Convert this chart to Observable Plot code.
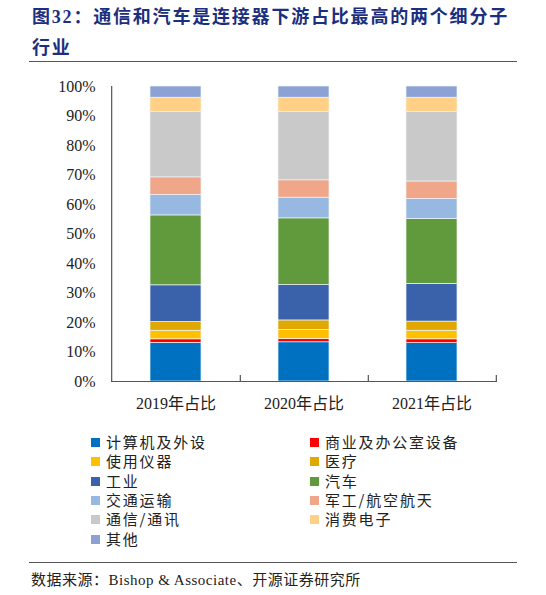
<!DOCTYPE html>
<html>
<head>
<meta charset="utf-8">
<script src="https://cdn.jsdelivr.net/npm/d3@7"></script>
<script src="https://cdn.jsdelivr.net/npm/@observablehq/plot@0.6"></script>
<style>
  body { margin: 0; background: #fff; }
  #page { position: relative; width: 546px; height: 595px; overflow: hidden;
          font-family: "Liberation Serif", "Noto Sans CJK SC", serif; }
  #title { position: absolute; left: 32px; top: 2px; font-family: "Liberation Serif", "Noto Sans CJK SC", serif;
           font-weight: bold; font-size: 18px; line-height: 31px; letter-spacing: 1.8px; color: #1b2f7e; }
  .rule { position: absolute; left: 29px; width: 488px; border-top: 1.5px solid #555; }
  #chart { position: absolute; left: 0; top: 70px; }
  #legend { position: absolute; left: 0; top: 432px; width: 546px; }
  .item { position: absolute; font-size: 15px; letter-spacing: 1.8px; color: #222; white-space: nowrap;
          font-family: "Noto Sans CJK SC", sans-serif; line-height: 20px; }
  .sw { display: inline-block; width: 9px; height: 9px; margin-right: 6px; vertical-align: 1px; }
  #source { position: absolute; left: 31px; top: 568px; font-size: 15px; color: #222; letter-spacing: 0.5px; }
</style>
</head>
<body>
<div id="page">
  <div id="title">图32：通信和汽车是连接器下游占比最高的两个细分子<br>行业</div>
  <div class="rule" style="top:61px"></div>
  <div id="chart"></div>
  <div id="legend"></div>
  <div class="rule" style="top:562px"></div>
  <div id="source">数据来源：Bishop &amp; Associate、开源证券研究所</div>
</div>
<script>
// 年份类别
const years = ["2019年占比", "2020年占比", "2021年占比"];

// 下游细分行业（自下而上堆叠）
const seriesNames = ["计算机及外设", "商业及办公室设备", "使用仪器", "医疗", "工业", "汽车",
  "交通运输", "军工/航空航天", "通信/通讯", "消费电子", "其他"];
const seriesColors = ["#0070c0", "#ff0000", "#ffc000", "#e0a800", "#3a62ab", "#609a3c",
  "#97b8e0", "#f0a688", "#c9c9c9", "#ffd086", "#8ea1d4"];

// 各行业占比（%）
const share2019 = [13.1, 1.2, 2.9, 3.0, 12.4, 23.7, 6.9, 6.0, 22.1, 4.9, 3.8];
const share2020 = [13.3, 1.1, 3.1, 3.2, 12.0, 22.6, 7.0, 5.9, 23.2, 4.8, 3.8];
const share2021 = [13.0, 1.3, 2.9, 3.1, 12.8, 22.0, 6.8, 5.9, 23.6, 4.8, 3.8];

const yTicks = d3.range(0, 101, 10);

// 整理成长表
const shares = [share2019, share2020, share2021];
let data = [];
years.forEach((yr, i) => {
  seriesNames.forEach((s, j) => data.push({year: yr, series: s, value: shares[i][j]}));
});

const W = 546, H = 350, mL = 111, mR = 49;
const halfStep = (W - mL - mR) / years.length / 2;
const font = "Liberation Serif, Noto Sans CJK SC, serif";

let chart = Plot.plot({
  width: W,
  height: H,
  marginLeft: mL,
  marginRight: mR,
  marginTop: 16,
  marginBottom: 39,
  style: {fontFamily: font, fontSize: "16px", color: "#222", background: "white"},
  x: {domain: years, paddingInner: 0.6, paddingOuter: 0.3, label: null},
  y: {domain: [0, 100], label: null},
  color: {domain: seriesNames, range: seriesColors},
  marks: [
    Plot.barY(data, {x: "year", y: "value", fill: "series", stroke: "#eef3f9", strokeWidth: 0.7}),
    Plot.axisY(yTicks, {tickSize: 0, tickPadding: 16, tickFormat: d => d + "%", fontSize: 16}),
    Plot.axisX({tickSize: 0, tickPadding: 16, fontSize: 16}),
    Plot.ruleY([0], {stroke: "#555", strokeWidth: 1.2}),
    Plot.ruleX([years[0]], {dx: -halfStep, stroke: "#555", strokeWidth: 1.2}),
    Plot.ruleX(years, {x: d => d, y1: 0, y2: 2, dx: halfStep, stroke: "#555", strokeWidth: 1.2})
  ]
});

d3.select("#chart").append(() => chart);

// 图例：两列
const legend = d3.select("#legend");
seriesNames.forEach((s, i) => {
  const col = i % 2, row = Math.floor(i / 2);
  const item = legend.append("div").attr("class", "item")
    .style("left", (col === 0 ? 91 : 310) + "px")
    .style("top", (row * 19.3) + "px");
  item.append("span").attr("class", "sw").style("background", seriesColors[i]);
  item.append("span").text(s);
});
</script>
</body>
</html>
